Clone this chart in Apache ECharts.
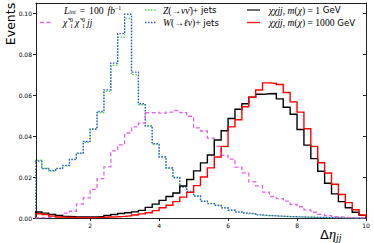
<!DOCTYPE html>
<html><head><meta charset="utf-8">
<script src="https://cdn.jsdelivr.net/npm/echarts@6/dist/echarts.min.js"></script>
<style>html,body{margin:0;padding:0;background:#fff}#c{width:374px;height:243px}</style>
</head><body><div id="c"></div>
<script>
// ---- data (bins of width 0.2 starting at 0.4) ----
const binLow = 0.4;
const binWidth = 0.2;
const xTickValues = [2, 4, 6, 8, 10];
const yTickValues = [0, 0.02, 0.04, 0.06, 0.08, 0.10];

const zJets = [0.0282,0.0243,0.0229,0.0243,0.0255,0.0288,0.0315,0.0370,0.0436,0.0515,0.0618,0.0745,0.0883,0.0975,0.0700,0.0553,0.0452,0.0360,0.0300,0.0243,0.0199,0.0153,0.0128,0.0109,0.0083,0.0071,0.0061,0.0050,0.0037,0.0030,0.0025,0.0020,0.0016,0.0012,0.0011,0.0008,0.0007,0.0006,0.0005,0.0004,0.0003,0.0003,0.0002,0.0002,0.0001,0.0001,0.0001,0.0001];
const wJets = [0.0278,0.0241,0.0231,0.0241,0.0257,0.0285,0.0317,0.0374,0.0433,0.0520,0.0626,0.0756,0.0900,0.0995,0.0712,0.0558,0.0449,0.0363,0.0298,0.0245,0.0197,0.0151,0.0130,0.0107,0.0081,0.0070,0.0062,0.0049,0.0038,0.0029,0.0024,0.0021,0.0015,0.0012,0.0010,0.0009,0.0007,0.0006,0.0005,0.0004,0.0003,0.0003,0.0002,0.0002,0.0001,0.0001,0.0001,0.0001];
const neutralinoJJ = [0.0002,0.0003,0.0005,0.0010,0.0024,0.0033,0.0068,0.0098,0.0140,0.0192,0.0250,0.0328,0.0357,0.0415,0.0445,0.0463,0.0514,0.0516,0.0512,0.0517,0.0525,0.0515,0.0497,0.0440,0.0425,0.0390,0.0350,0.0306,0.0288,0.0248,0.0220,0.0176,0.0157,0.0126,0.0105,0.0095,0.0082,0.0066,0.0055,0.0040,0.0028,0.0018,0.0012,0.0006,0.0004,0.0002,0.0001,0.0001];
const chiM1 = [0.0029,0.0024,0.0017,0.0012,0.0008,0.0006,0.0005,0.0005,0.0005,0.0008,0.0012,0.0017,0.0022,0.0026,0.0030,0.0037,0.0052,0.0068,0.0086,0.0105,0.0122,0.0156,0.0188,0.0230,0.0269,0.0308,0.0381,0.0426,0.0486,0.0531,0.0558,0.0590,0.0604,0.0607,0.0608,0.0582,0.0541,0.0507,0.0432,0.0356,0.0290,0.0228,0.0170,0.0118,0.0080,0.0050,0.0028,0.0013];
const chiM1000 = [0.0021,0.0017,0.0009,0.0005,0.0003,0.0003,0.0002,0.0002,0.0003,0.0003,0.0005,0.0006,0.0008,0.0011,0.0015,0.0020,0.0026,0.0036,0.0050,0.0062,0.0080,0.0102,0.0125,0.0158,0.0200,0.0245,0.0298,0.0350,0.0445,0.0480,0.0543,0.0590,0.0625,0.0660,0.0657,0.0652,0.0613,0.0567,0.0517,0.0436,0.0350,0.0270,0.0220,0.0165,0.0115,0.0075,0.0040,0.0015];

function histPoints(vals) {
  const pts = [[binLow, 0]];
  vals.forEach((v, i) => pts.push([binLow + i * binWidth, v]));
  const end = binLow + vals.length * binWidth;
  pts.push([end, vals[vals.length - 1]]);
  pts.push([end, 0]);
  return pts;
}

const chart = echarts.init(document.getElementById('c'), null, {renderer: 'svg'});
const X0 = 0.43, X1 = 10, Y1 = 0.105;
const MATH = 'Liberation Serif';
const SANS = 'DejaVu Sans';
const FM = 9.6, FS = 8.6, FSUB = 6;

function stepSeries(name, vals, color, width, dash, z) {
  return {
    name, type: 'line', step: 'end', data: histPoints(vals), showSymbol: false,
    clip: true, z: z, animation: false,
    lineStyle: {color, width, type: dash || 'solid', cap: 'butt', join: 'miter'}
  };
}
function seg(x1, x2, y, color, width, dash) {
  return {type: 'line', silent: true, z: 100,
    shape: {x1, y1: y, x2, y2: y},
    style: {stroke: color, lineWidth: width, lineDash: dash || null}};
}
function small(t, x, y) {
  return {type: 'text', silent: true, x, y, style: {text: t, font: FSUB + 'px "' + MATH + '"', verticalAlign: 'middle'}};
}
const richBase = {
  m: {fontFamily: MATH, fontStyle: 'italic', fontSize: FM, lineHeight: 10.5},
  n: {fontFamily: MATH, fontSize: FM, lineHeight: 10.5},
  g: {fontFamily: MATH, fontSize: FM, lineHeight: 10.5, width: 4},
  s: {fontFamily: SANS, fontSize: FS, lineHeight: 10.5},
  b: {fontFamily: MATH, fontStyle: 'italic', fontSize: FSUB, lineHeight: 6, verticalAlign: 'bottom'},
  p: {fontFamily: MATH, fontSize: FSUB, lineHeight: 6, verticalAlign: 'top'}
};
function rtext(t, x, y) {
  return {type: 'text', silent: true, x, y, style: {text: t, verticalAlign: 'middle', rich: richBase}};
}

const row1 = 10, row2 = 22.5;
const graphics = [
  {type: 'text', silent: true, x: 10, y: 24, rotation: Math.PI / 2,
   style: {text: 'Events', font: '12.5px "DejaVu Sans"', fill: '#000', align: 'center', verticalAlign: 'middle'}},
  {type: 'text', silent: true, x: 320, y: 234,
   style: {text: '{n|Δ}{m|η}{s|jj}', verticalAlign: 'middle',
     rich: {
       n: {fontFamily: SANS, fontSize: 13, lineHeight: 17},
       m: {fontFamily: MATH, fontStyle: 'italic', fontSize: 14.5, lineHeight: 17},
       s: {fontFamily: MATH, fontStyle: 'italic', fontSize: 10, lineHeight: 11, verticalAlign: 'bottom'}
     }}},
  // legend column 1
  rtext('{m|L}{b|int}{g| }{n|=}{g| }{n|100}{g| }{m|fb}{p|−1}', 64, row1),
  seg(40, 53, row2, '#e066e0', 1.3, [4, 2.5]),
  {type: 'text', silent: true, x: 63, y: row2, style: {text: 'χ̃', font: 'italic ' + FM + 'px "' + MATH + '"', verticalAlign: 'middle'}},
  small('0', 70, row2 - 2.8), small('1', 70, row2 + 3.2),
  {type: 'text', silent: true, x: 75, y: row2, style: {text: 'χ̃', font: 'italic ' + FM + 'px "' + MATH + '"', verticalAlign: 'middle'}},
  small('0', 82, row2 - 2.8), small('1', 82, row2 + 3.2),
  {type: 'text', silent: true, x: 87, y: row2, style: {text: 'jj', font: 'italic ' + FM + 'px "' + MATH + '"', verticalAlign: 'middle'}},
  // legend column 2
  seg(145, 156, row1, '#55d455', 1.3, [1.5, 1.5]),
  seg(145, 156, row2, '#3050e0', 1.3, [1.5, 1.5]),
  rtext('{m|Z}{n|(→}{m|νν̄}{n|)+}{s| jets}', 163, row1),
  rtext('{m|W}{n|(→}{m|ℓν}{n|)+}{s| jets}', 163, row2),
  // legend column 3
  seg(247, 260, row1, '#333333', 1.4),
  seg(247, 260, row2, '#ff2020', 1.4),
  rtext('{m|χχjj}{n|, }{m|m}{n|(}{m|χ}{n|) = 1}{s| GeV}', 269, row1),
  rtext('{m|χχjj}{n|, }{m|m}{n|(}{m|χ}{n|) = 1000}{s| GeV}', 269, row2)
];

const axisLineStyle = {color: '#222', width: 1};
chart.setOption({
  animation: false,
  backgroundColor: '#fff',
  grid: {left: 36, right: 8, top: 3, bottom: 25, containLabel: false},
  xAxis: [
    {type: 'value', min: X0, max: X1, position: 'bottom',
     axisLine: {show: true, onZero: false, lineStyle: axisLineStyle},
     axisTick: {show: true, length: 3, inside: false, customValues: xTickValues, lineStyle: {color: '#222'}},
     axisLabel: {show: true, customValues: xTickValues, fontSize: 6, color: '#000', fontFamily: SANS, margin: 4,
       formatter: v => String(Math.round(v))},
     splitLine: {show: false}},
    {type: 'value', min: X0, max: X1, position: 'top',
     axisLine: {show: true, onZero: false, lineStyle: axisLineStyle},
     axisTick: {show: false}, axisLabel: {show: false}, splitLine: {show: false}}
  ],
  yAxis: [
    {type: 'value', min: 0, max: Y1, position: 'left',
     axisLine: {show: true, onZero: false, lineStyle: axisLineStyle},
     axisTick: {show: true, length: 3, customValues: yTickValues, lineStyle: {color: '#222'}},
     axisLabel: {show: true, customValues: yTickValues, fontSize: 6, color: '#000', fontFamily: SANS, margin: 4,
       formatter: v => v.toFixed(2)},
     splitLine: {show: false}},
    {type: 'value', min: 0, max: Y1, position: 'right',
     axisLine: {show: true, onZero: false, lineStyle: axisLineStyle},
     axisTick: {show: true, inside: true, length: 3, customValues: yTickValues, lineStyle: {color: '#222'}},
     axisLabel: {show: false}, splitLine: {show: false}}
  ],
  series: [
    stepSeries('Z(→νν̄)+ jets', zJets, '#55d455', 1.3, [1.5, 1.5], 2),
    stepSeries('W(→ℓν)+ jets', wJets, '#3050e0', 1.3, [1.5, 1.5], 3),
    stepSeries('χ̃χ̃jj', neutralinoJJ, '#e066e0', 1.3, [4, 2.5], 4),
    stepSeries('χχjj, m(χ)=1 GeV', chiM1, '#000000', 1.4, null, 5),
    stepSeries('χχjj, m(χ)=1000 GeV', chiM1000, '#ff0000', 1.4, null, 6)
  ],
  graphic: graphics
});
</script></body></html>
